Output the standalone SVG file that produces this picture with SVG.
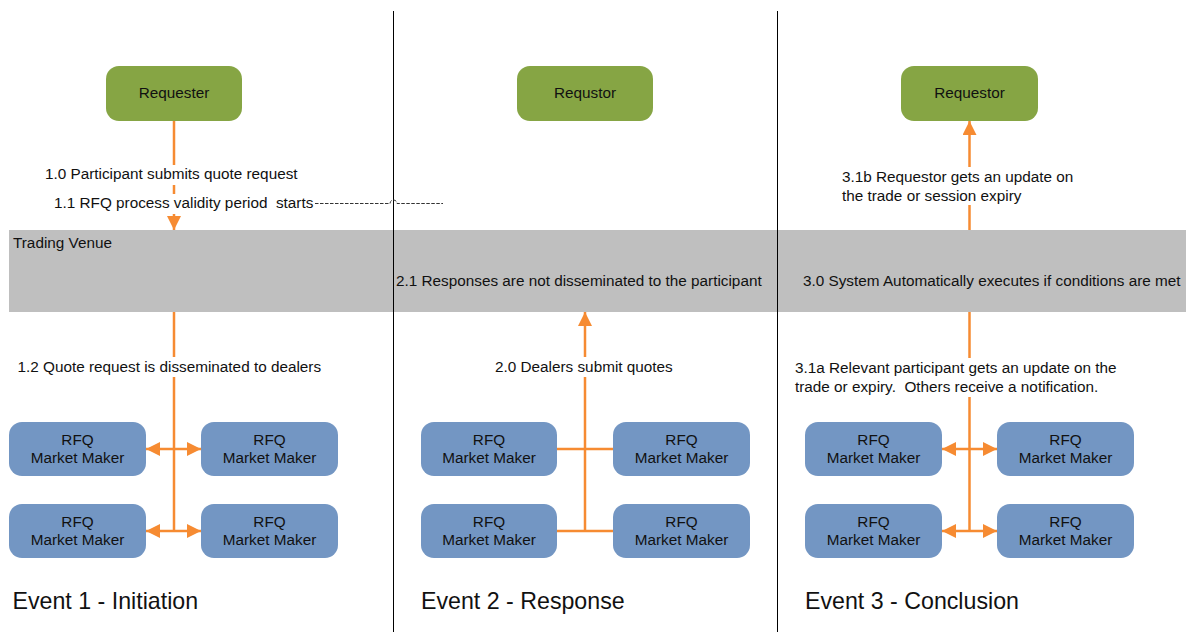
<svg xmlns="http://www.w3.org/2000/svg" width="1186" height="632" viewBox="0 0 1186 632">
<style>
text{font-family:"Liberation Sans",Arial,sans-serif;font-size:15.3px;fill:#111;white-space:pre}
.ev{font-size:23.2px}
.req{fill:#86A544}
.mm{fill:#7396C3}
.lbl{text-anchor:middle}
.con{stroke:#F68B32;stroke-width:2.5;fill:none}
.div{stroke:#000;stroke-width:1}
.bg{fill:#fff}
</style>
<defs>
<marker id="ah" markerUnits="userSpaceOnUse" markerWidth="14" markerHeight="14" refX="14" refY="7" orient="auto-start-reverse">
<path d="M0,0 L14,7 L0,14 z" fill="#F68B32"/>
</marker>
</defs>
<rect width="1186" height="632" fill="#fff"/>
<rect id="trading-venue" x="9" y="230" width="1177" height="82" fill="#BFBFBF"/>
<g id="dividers">
<line class="div" x1="393.5" y1="11" x2="393.5" y2="632"/>
<line class="div" x1="777.5" y1="11" x2="777.5" y2="632"/>
</g>
<g id="connectors">
<line class="con" x1="174" y1="121" x2="174" y2="230" marker-end="url(#ah)"/>
<line class="con" x1="174" y1="312" x2="174" y2="531"/>
<line class="con" x1="146" y1="449" x2="201" y2="449" marker-start="url(#ah)" marker-end="url(#ah)"/>
<line class="con" x1="146" y1="531" x2="201" y2="531" marker-start="url(#ah)" marker-end="url(#ah)"/>
<line class="con" x1="585" y1="531" x2="585" y2="312" marker-end="url(#ah)"/>
<line class="con" x1="557" y1="449" x2="613" y2="449"/>
<line class="con" x1="557" y1="531" x2="613" y2="531"/>
<line class="con" x1="969.5" y1="312" x2="969.5" y2="531"/>
<line class="con" x1="942" y1="449" x2="997" y2="449" marker-start="url(#ah)" marker-end="url(#ah)"/>
<line class="con" x1="942" y1="531" x2="997" y2="531" marker-start="url(#ah)" marker-end="url(#ah)"/>
<line class="con" x1="969.5" y1="230" x2="969.5" y2="121" marker-end="url(#ah)"/>
<path d="M315,203.5 H390 a3.5,3.5 0 0 1 7,0 H443" stroke="#333" stroke-width="1" fill="none" stroke-dasharray="3.5 1.5"/>
</g>
<g id="labels">
<rect class="bg" x="43" y="165" width="258" height="20"/>
<text x="45" y="179">1.0 Participant submits quote request</text>
<rect class="bg" x="52" y="194" width="262" height="20"/>
<text x="54" y="208">1.1 RFQ process validity period  starts</text>
<text x="13" y="248">Trading Venue</text>
<rect class="bg" x="15" y="357" width="313" height="20"/>
<text x="17.5" y="371.5">1.2 Quote request is disseminated to dealers</text>
<text x="396" y="286">2.1 Responses are not disseminated to the participant</text>
<rect class="bg" x="493" y="357" width="184" height="20"/>
<text x="495" y="372">2.0 Dealers submit quotes</text>
<text x="803" y="286">3.0 System Automatically executes if conditions are met</text>
<rect class="bg" x="840" y="167" width="240" height="38"/>
<text x="842" y="182">3.1b Requestor gets an update on</text>
<text x="842" y="201">the trade or session expiry</text>
<rect class="bg" x="793" y="358" width="335" height="39"/>
<text x="795" y="373">3.1a Relevant participant gets an update on the</text>
<text x="795" y="392">trade or expiry.  Others receive a notification.</text>
<text class="ev" x="12.5" y="609">Event 1 - Initiation</text>
<text class="ev" x="421" y="609">Event 2 - Response</text>
<text class="ev" x="805" y="609">Event 3 - Conclusion</text>
</g>
<g id="requester-1"><rect class="req" x="106" y="66" width="136" height="55" rx="13"/><text class="lbl" x="174" y="98">Requester</text></g>
<g id="requestor-2"><rect class="req" x="517" y="66" width="136" height="55" rx="13"/><text class="lbl" x="585" y="98">Requstor</text></g>
<g id="requestor-3"><rect class="req" x="901" y="66" width="137" height="55" rx="13"/><text class="lbl" x="969.5" y="98">Requestor</text></g>
<g id="mm-1a"><rect class="mm" x="9" y="422" width="137" height="54" rx="13"/><text class="lbl" x="77.5" y="445">RFQ</text><text class="lbl" x="77.5" y="463">Market Maker</text></g>
<g id="mm-1b"><rect class="mm" x="201" y="422" width="137" height="54" rx="13"/><text class="lbl" x="269.5" y="445">RFQ</text><text class="lbl" x="269.5" y="463">Market Maker</text></g>
<g id="mm-1c"><rect class="mm" x="9" y="504" width="137" height="54" rx="13"/><text class="lbl" x="77.5" y="527">RFQ</text><text class="lbl" x="77.5" y="545">Market Maker</text></g>
<g id="mm-1d"><rect class="mm" x="201" y="504" width="137" height="54" rx="13"/><text class="lbl" x="269.5" y="527">RFQ</text><text class="lbl" x="269.5" y="545">Market Maker</text></g>
<g id="mm-2a"><rect class="mm" x="421" y="422" width="136" height="54" rx="13"/><text class="lbl" x="489" y="445">RFQ</text><text class="lbl" x="489" y="463">Market Maker</text></g>
<g id="mm-2b"><rect class="mm" x="613" y="422" width="137" height="54" rx="13"/><text class="lbl" x="681.5" y="445">RFQ</text><text class="lbl" x="681.5" y="463">Market Maker</text></g>
<g id="mm-2c"><rect class="mm" x="421" y="504" width="136" height="54" rx="13"/><text class="lbl" x="489" y="527">RFQ</text><text class="lbl" x="489" y="545">Market Maker</text></g>
<g id="mm-2d"><rect class="mm" x="613" y="504" width="137" height="54" rx="13"/><text class="lbl" x="681.5" y="527">RFQ</text><text class="lbl" x="681.5" y="545">Market Maker</text></g>
<g id="mm-3a"><rect class="mm" x="805" y="422" width="137" height="54" rx="13"/><text class="lbl" x="873.5" y="445">RFQ</text><text class="lbl" x="873.5" y="463">Market Maker</text></g>
<g id="mm-3b"><rect class="mm" x="997" y="422" width="137" height="54" rx="13"/><text class="lbl" x="1065.5" y="445">RFQ</text><text class="lbl" x="1065.5" y="463">Market Maker</text></g>
<g id="mm-3c"><rect class="mm" x="805" y="504" width="137" height="54" rx="13"/><text class="lbl" x="873.5" y="527">RFQ</text><text class="lbl" x="873.5" y="545">Market Maker</text></g>
<g id="mm-3d"><rect class="mm" x="997" y="504" width="137" height="54" rx="13"/><text class="lbl" x="1065.5" y="527">RFQ</text><text class="lbl" x="1065.5" y="545">Market Maker</text></g>
</svg>
